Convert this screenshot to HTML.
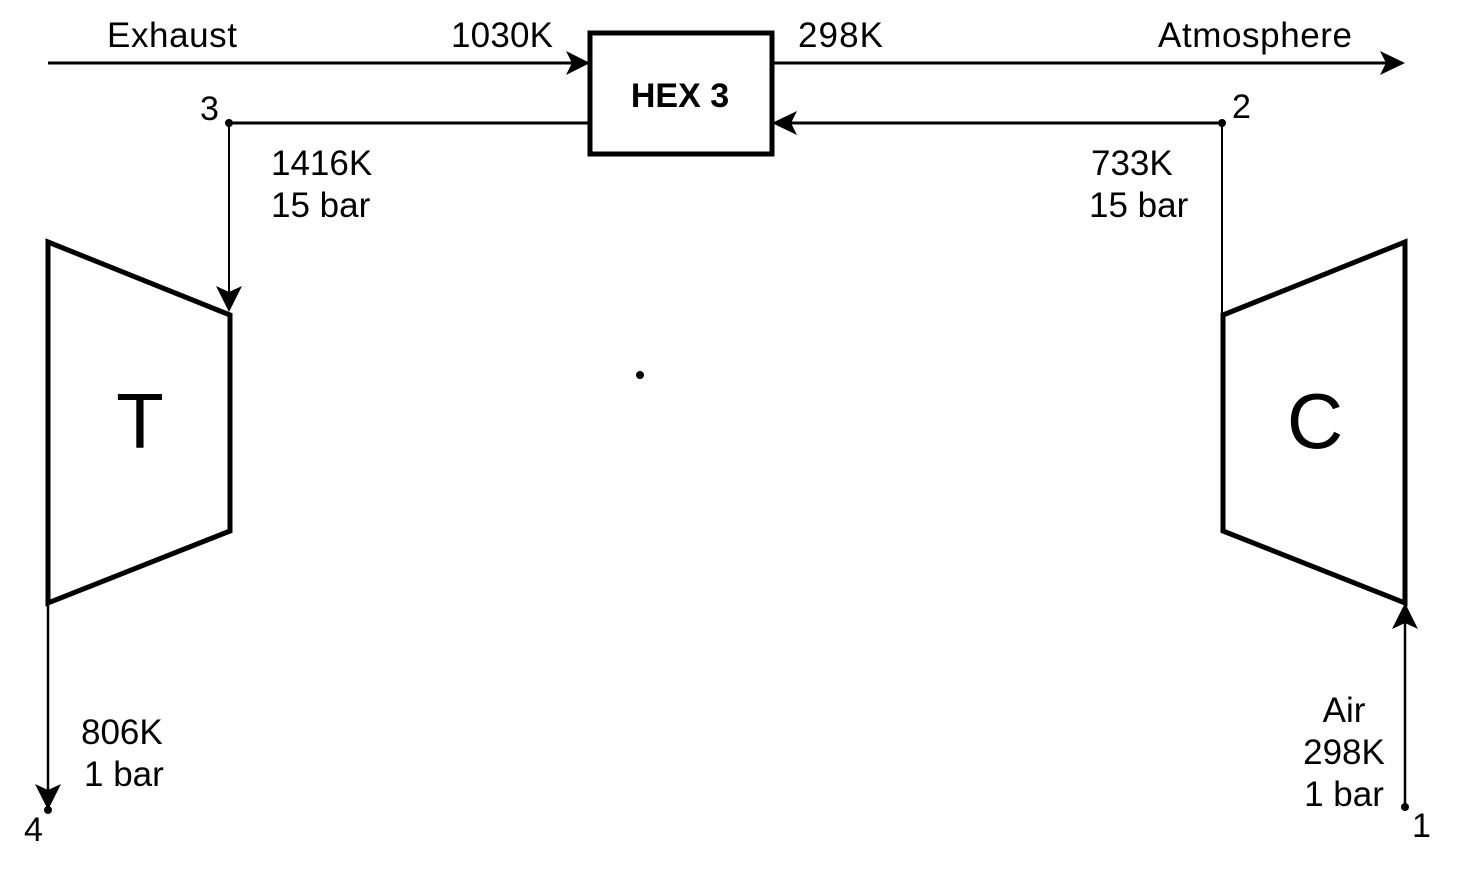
<!DOCTYPE html>
<html><head><style>html,body{margin:0;padding:0;background:#fff}svg{display:block}text{font-family:"Liberation Sans",sans-serif;fill:#000}</style></head>
<body>
<svg width="1472" height="886" viewBox="0 0 1472 886" xmlns="http://www.w3.org/2000/svg">
<g stroke="#000" fill="none">
<line x1="48" y1="63" x2="580" y2="63" stroke-width="3"/>
<line x1="772" y1="63" x2="1395" y2="63" stroke-width="3"/>
<rect x="590" y="33" width="182" height="121" stroke-width="5"/>
<line x1="229" y1="123" x2="590" y2="123" stroke-width="3"/>
<line x1="229" y1="123" x2="229" y2="302" stroke-width="2"/>
<line x1="785" y1="123" x2="1222" y2="123" stroke-width="3"/>
<line x1="1222" y1="123" x2="1222" y2="314" stroke-width="2"/>
<polygon points="48,242 230,315 230,531 48,603" stroke-width="5"/>
<polygon points="1223,315 1405,242 1405,603 1223,531" stroke-width="5"/>
<line x1="48" y1="603" x2="48" y2="800" stroke-width="2.5"/>
<line x1="1405" y1="620" x2="1405" y2="807" stroke-width="2.5"/>
</g>
<g fill="#000">
<polygon points="590,63 566,51 572,63 566,75"/>
<polygon points="1405,63 1380,51 1386,63 1380,75"/>
<polygon points="772,123 797,111 791,123 797,135"/>
<polygon points="229,312 216,286 229,292 242,286"/>
<polygon points="48,810 35,784 48,790 61,784"/>
<polygon points="1405,603 1392,629 1405,623 1418,629"/>
<circle cx="229" cy="123" r="4"/>
<circle cx="1222" cy="123" r="4"/>
<circle cx="48" cy="810" r="4"/>
<circle cx="1405" cy="807" r="4"/>
<circle cx="640" cy="375" r="4"/>
</g>
<text x="107" y="47" font-size="35" textLength="130">Exhaust</text>
<text x="451" y="47" font-size="35" textLength="102">1030K</text>
<text x="798" y="47" font-size="35" textLength="85">298K</text>
<text x="1158" y="47" font-size="35" textLength="194">Atmosphere</text>
<text x="680" y="107" font-size="34" font-weight="bold" text-anchor="middle">HEX 3</text>
<text x="200" y="120" font-size="34">3</text>
<text x="1232" y="118" font-size="34">2</text>
<text x="24" y="841" font-size="34">4</text>
<text x="1412" y="837" font-size="34">1</text>
<text x="271" y="175" font-size="35">1416K</text>
<text x="271" y="217" font-size="35">15 bar</text>
<text x="1091" y="175" font-size="35">733K</text>
<text x="1089" y="217" font-size="35">15 bar</text>
<text x="140" y="448" font-size="78" text-anchor="middle">T</text>
<text x="1315" y="448" font-size="78" text-anchor="middle">C</text>
<text x="81" y="744" font-size="35">806K</text>
<text x="84" y="786" font-size="35">1 bar</text>
<text x="1344" y="722" font-size="35" text-anchor="middle">Air</text>
<text x="1344" y="764" font-size="35" text-anchor="middle">298K</text>
<text x="1344" y="806" font-size="35" text-anchor="middle">1 bar</text>
</svg>
</body></html>
